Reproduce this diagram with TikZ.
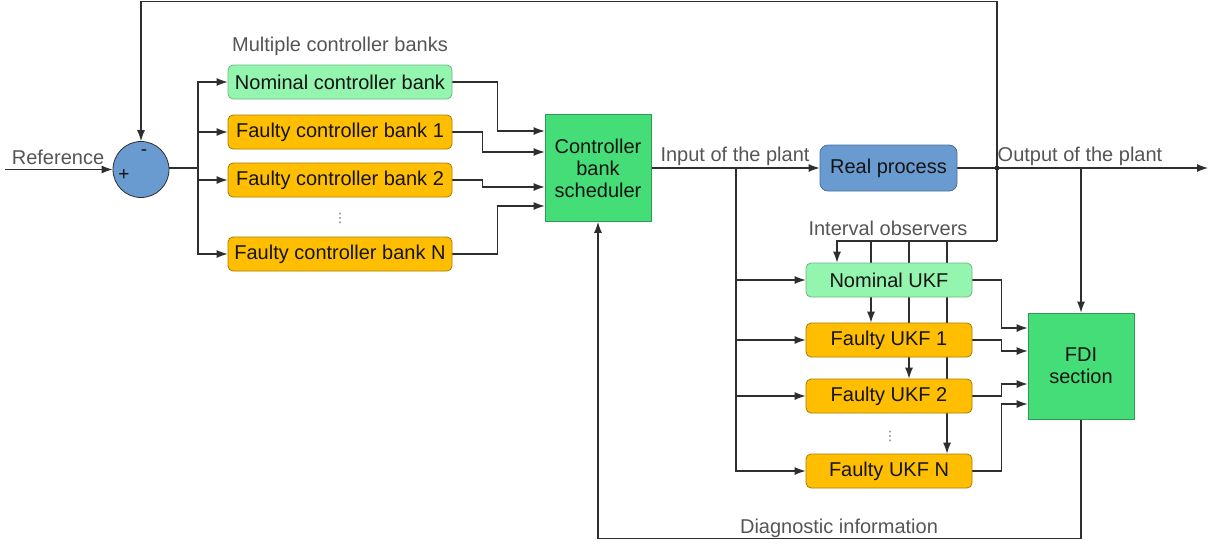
\documentclass[tikz,border=0pt]{standalone}
\usepackage{fontspec}
\setmainfont{Liberation Sans}
\newfontfamily\djv{DejaVu Sans}
\usetikzlibrary{arrows.meta,backgrounds}
\definecolor{linec}{HTML}{2E2E2E}
\definecolor{labc}{HTML}{555555}
\definecolor{txtc}{HTML}{141414}
\definecolor{nomfill}{HTML}{93F5AE}
\definecolor{nomdraw}{HTML}{6DB883}
\definecolor{fltfill}{HTML}{FFBF00}
\definecolor{fltdraw}{HTML}{A67C00}
\definecolor{grnfill}{HTML}{44DD77}
\definecolor{grndraw}{HTML}{2E9A52}
\definecolor{bluefill}{HTML}{6A9BD0}
\definecolor{bluedraw}{HTML}{4A6F9A}
\definecolor{dotc}{HTML}{7A6A8A}
\begin{document}
\begin{tikzpicture}[x=1pt,y=-1pt,
  line/.style={draw=linec,line width=1.1pt},
  arr/.style={line,-{Latex[length=11pt,width=8pt]}},
  txtfont/.style={font=\fontsize{20}{22}\selectfont},
  lab/.style={txtfont,text=labc,inner sep=0pt},
  boxbase/.style={txtfont,text=txtc,inner sep=0pt,line width=0.8pt},
  nombox/.style={boxbase,rounded corners=5pt,fill=nomfill,draw=nomdraw},
  fltbox/.style={boxbase,rounded corners=5pt,fill=fltfill,draw=fltdraw},
  cbank/.style={minimum width=224pt,minimum height=34pt},
  ukfbox/.style={minimum width=166pt,minimum height=34pt},
  grnbox/.style={boxbase,fill=grnfill,draw=grndraw,align=center},
  dotsnode/.style={text=dotc,inner sep=0pt,font=\djv\fontsize{13}{13}\selectfont},
  signnode/.style={inner sep=0pt,font=\fontsize{19}{19}\selectfont,text=txtc}
]
\useasboundingbox (0,0) rectangle (1214,547);

% summing junction
\node[circle,fill=bluefill,draw=linec,line width=0.8pt,minimum size=56pt,inner sep=0pt] (sum) at (141,169.5) {};
\node[signnode] (minus) at (144,153) {-};
\node[signnode] (plus) at (124,175) {+};

% controller banks
\node[lab] (mcb) at (340,46) {Multiple controller banks};
\node[nombox,cbank] (nom) at (340,82) {Nominal controller bank};
\node[fltbox,cbank] (f1) at (340,132) {Faulty controller bank 1};
\node[fltbox,cbank] (f2) at (340,180) {Faulty controller bank 2};
\node[dotsnode] (cdots) at (340,218) {⋮};
\node[fltbox,cbank] (fN) at (340,254) {Faulty controller bank N};

% scheduler
\node[grnbox,minimum width=106pt,minimum height=107pt] (sched) at (598,168) {Controller\\bank\\scheduler};

% real process
\node[boxbase,rounded corners=8pt,fill=bluefill,draw=bluedraw,minimum width=137pt,minimum height=46pt] (real) at (888.5,168) {Real process};

% UKFs
\node[lab] (iobs) at (888,228) {Interval observers};
\node[nombox,ukfbox] (u0) at (889,280) {Nominal UKF};
\node[fltbox,ukfbox] (u1) at (889,340) {Faulty UKF 1};
\node[fltbox,ukfbox] (u2) at (889,396) {Faulty UKF 2};
\node[dotsnode] (udots) at (890,436) {⋮};
\node[fltbox,ukfbox] (uN) at (889,471) {Faulty UKF N};

% FDI
\node[grnbox,minimum width=106pt,minimum height=106pt] (fdi) at (1081,366) {FDI\\section};

% labels
\node[lab] (reflab) at (58,157) {Reference};
\node[lab] (inlab) at (735,156) {Input of the plant};
\node[lab] (outlab) at (1080,156) {Output of the plant};
\node[lab] (diaglab) at (839,528) {Diagnostic information};

% coordinates
\coordinate (refin) at (5,169.5);
\coordinate (j1) at (198,168);
\coordinate (j2) at (736,168);
\coordinate (tap) at (997,168);
\coordinate (outend) at (1208,168);
\coordinate (topl) at (997,1.5);
\coordinate (io) at (997,241);
\coordinate (v0) at ([xshift=-52pt]u0.north);
\coordinate (v1) at ([xshift=-18pt]u1.north);
\coordinate (v2) at ([xshift=20pt]u2.north);
\coordinate (v3) at ([xshift=58pt]uN.north);

\begin{scope}[on background layer]
% reference and summer
\draw[arr] (refin) -- (sum.west);
\draw[line] (sum.east |- j1) -- (j1);
\draw[arr] (j1) |- (nom.west);
\draw[arr] (j1) |- (f1.west);
\draw[arr] (j1) |- (f2.west);
\draw[arr] (j1) |- (fN.west);
% banks to scheduler
\draw[arr] (nom.east) -- ++(45,0) |- ([yshift=37pt]sched.west);
\draw[arr] (f1.east) -- ++(30,0) |- ([yshift=16pt]sched.west);
\draw[arr] (f2.east) -- ++(30,0) |- ([yshift=-19pt]sched.west);
\draw[arr] (fN.east) -- ++(45,0) |- ([yshift=-38pt]sched.west);
% plant input
\draw[arr] (sched.east) -- (real.west);
\draw[arr] (j2) |- (u0.west);
\draw[arr] (j2) |- (u1.west);
\draw[arr] (j2) |- (u2.west);
\draw[arr] (j2) |- (uN.west);
% output
\draw[arr] (real.east) -- (outend);
\draw[arr] (tap) -- (topl) -| (sum.north);
\draw[line] (tap) -- (io);
\draw[arr] (io) -| (v0);
\draw[arr] (v1 |- io) -- (v1);
\draw[arr] (v2 |- io) -- (v2);
\draw[arr] (v3 |- io) -- (v3);
% UKFs to FDI
\draw[arr] (u0.east) -- ++(29,0) |- ([yshift=38pt]fdi.west);
\draw[arr] (u1.east) -- ++(29,0) |- ([yshift=15pt]fdi.west);
\draw[arr] (u2.east) -- ++(29,0) |- ([yshift=-18pt]fdi.west);
\draw[arr] (uN.east) -- ++(29,0) |- ([yshift=-38pt]fdi.west);
\draw[arr] (fdi.north |- tap) -- (fdi.north);
% diagnostic feedback
\draw[arr] (fdi.south) -- ++(0,119) -| (sched.south);
\end{scope}
\fill[linec] (tap) circle (2.5pt);
\end{tikzpicture}
\end{document}
